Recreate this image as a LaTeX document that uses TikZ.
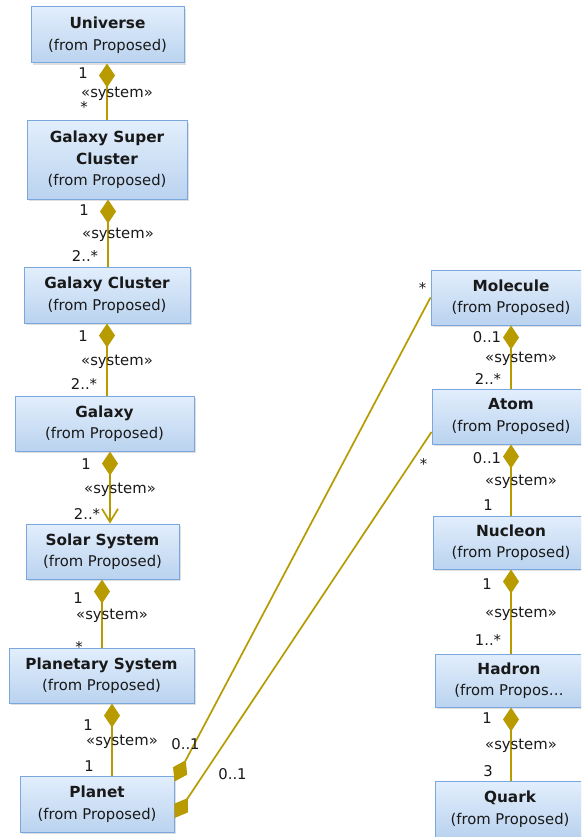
\documentclass[tikz,border=0pt]{standalone}
\usepackage{fontspec}
\setmainfont{DejaVu Sans}
\usetikzlibrary{arrows.meta,shadows}

\definecolor{boxTop}{RGB}{226,238,252}
\definecolor{boxBottom}{RGB}{186,211,239}
\definecolor{boxLine}{RGB}{122,167,222}
\definecolor{assocOlive}{RGB}{184,155,0}

\begin{document}
\begin{tikzpicture}
[x=1pt,y=-1pt,
  classDecorate/.style={shape=rectangle,draw=boxLine,line width=1pt,%
    top color=boxTop,bottom color=boxBottom,align=center,inner sep=0pt,%
    text=black!90,font=\fontsize{14.8}{21.5}\selectfont,%
    drop shadow={shadow xshift=2pt,shadow yshift=-2pt,opacity=.25}},%
  multDecorate/.style={inner sep=0pt,text=black!90,font=\fontsize{14.8}{17}\selectfont},%
  compDecorate/.style={draw=assocOlive,line width=1.7pt,%
    arrows={Diamond[length=24pt,width=16pt,fill=assocOlive]-}},%
  navDecorate/.style={compDecorate,%
    arrows={Diamond[length=24pt,width=16pt,fill=assocOlive]-Straight Barb[length=13pt,width=16pt]}}]
\useasboundingbox (0,0) rectangle (581,837);
\fill[white] (0,0) rectangle (581,837);
\clip (0,0) rectangle (581,837);
%% classes
\foreach \nodename/\x/\y/\w/\h/\title/\sub in {
  universe/107.5/35/153/56/Universe/(from Proposed),
  gsc/107/160/160/78/Galaxy Super\\\fontsize{15.3}{21.5}\selectfont\bfseries Cluster/(from Proposed),
  gcluster/107/295/166/56/Galaxy Cluster/(from Proposed),
  galaxy/104.5/423.5/179/55/Galaxy/(from Proposed),
  solar/102.5/551.5/153/55/Solar System/(from Proposed),
  planetary/101.5/675.5/185/55/Planetary System/(from Proposed),
  planet/97/804/154/56/Planet/(from Proposed),
  molecule/511/297.5/160/55/Molecule/(from Proposed),
  atom/511/416.5/158/55/Atom/(from Proposed),
  nucleon/511/542.5/156/53/Nucleon/(from Proposed),
  hadron/509/680.5/148/53/Hadron/(from Propos…,
  quark/510/809/150/56/Quark/(from Proposed)}
{
  \node[classDecorate,minimum width=\w pt,minimum height=\h pt] (\nodename) at (\x,\y)
    {\fontsize{15.3}{21.5}\selectfont\bfseries\title\\\fontsize{14.8}{21.5}\selectfont\mdseries\sub};
}
%% compositions
\foreach \from/\to/\lx/\tm/\ty/\bm/\by/\kind in {
  universe/gsc/107/1/10/*/13/compDecorate,
  gsc/gcluster/108/1/11/2..*/10/compDecorate,
  gcluster/galaxy/107/1/13/2..*/11/compDecorate,
  galaxy/solar/110/1/13/2..*/9/navDecorate,
  solar/planetary/102/1/19/*/1/compDecorate,
  planetary/planet/112/1/22/1/9/compDecorate,
  molecule/atom/511/0..1/12/2..*/9/compDecorate,
  atom/nucleon/511/0..1/14/1/10/compDecorate,
  nucleon/hadron/511/1/15/1..*/14/compDecorate,
  hadron/quark/511/1/11/3/9/compDecorate}
{
  \draw[\kind] (\lx,0 |- \from.south) -- (\lx,0 |- \to.north)
    node[multDecorate,pos=0,xshift=-24pt,yshift=-\ty pt] (\from-top) {\tm}
    node[multDecorate,pos=.5,xshift=10pt,yshift=-2pt] (\from-role) {«system»}
    node[multDecorate,pos=1,xshift=-23pt,yshift=\by pt] (\from-bottom) {\bm};
}
%% planet links
\draw[compDecorate] ([yshift=-6pt]planet.north east) -- (molecule.west)
  node[multDecorate,pos=0,xshift=11pt,yshift=37pt] (planet-mol) {0..1}
  node[multDecorate,pos=1,xshift=-8pt,yshift=9pt] (mol-planet) {*};
\draw[compDecorate] ([yshift=-14pt]planet.east) -- ([yshift=-15.5pt]atom.west)
  node[multDecorate,pos=0,xshift=58pt,yshift=44pt] (planet-atom) {0..1}
  node[multDecorate,pos=1,xshift=-8pt,yshift=-32pt] (atom-planet) {*};
\end{tikzpicture}
\end{document}
